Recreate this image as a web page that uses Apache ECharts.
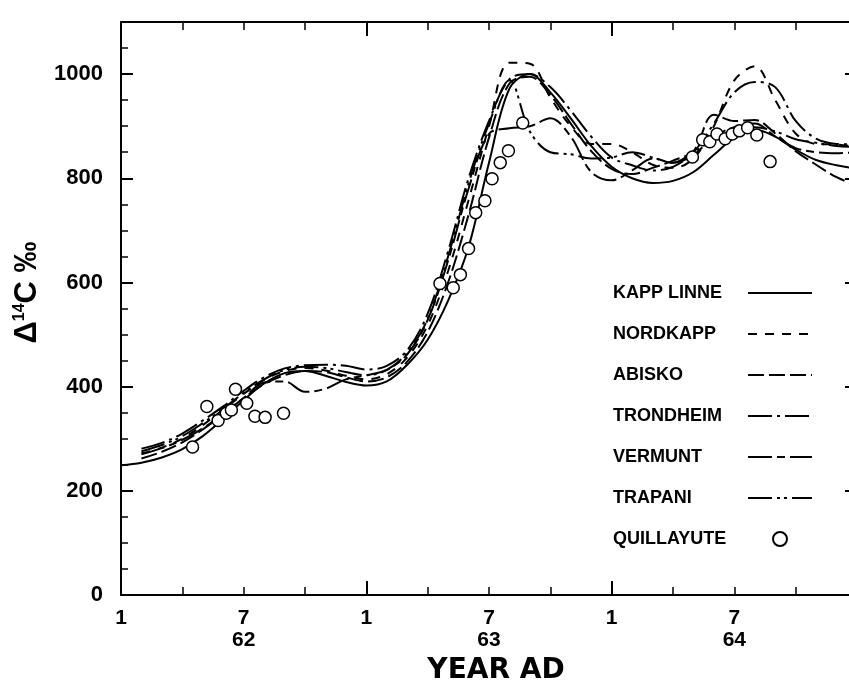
<!DOCTYPE html>
<html>
<head>
<meta charset="utf-8">
<script src="https://cdn.jsdelivr.net/npm/echarts@6/dist/echarts.min.js"></script>
<style>
  html, body { margin: 0; padding: 0; background: #fff; }
  #chart { width: 849px; height: 686px; }
</style>
</head>
<body>
<div id="chart"></div>
<script>
// months counted from Jan 1962 (0 = Jan 62, 12 = Jan 63, 24 = Jan 64)
const MONTHS = [0, 1, 2, 3, 4, 5, 6, 7, 8, 9, 10, 11, 12, 13, 14, 15, 16, 17, 18,
  19, 20, 21, 22, 23, 24, 25, 26, 27, 28, 29, 30, 31, 32, 33, 34, 35, 36];

const KAPP_LINNE = [249, 254, 264, 280, 305, 338, 374, 406, 426, 430, 421, 409, 402, 410, 442, 490, 565, 668, 830,
  972, 1000, 965, 915, 862, 822, 800, 791, 795, 812, 845, 878, 893, 880, 855, 835, 825, 818];
const NORDKAPP = [null, 272, 283, 300, 326, 356, 386, 413, 430, 436, 431, 421, 414, 424, 456, 518, 622, 758, 900,
  1022, 1020, 955, 900, 866, 866, 850, 826, 820, 838, 900, 988, 1015, 950, 886, 866, 865, 860];
const ABISKO = [null, 262, 275, 293, 318, 347, 378, 405, 422, 430, 428, 418, 410, 418, 448, 505, 600, 730, 878,
  982, 995, 960, 905, 852, 818, 808, 820, 834, 852, 922, 910, 912, 886, 852, 826, 802, 786];
const TRONDHEIM = [null, 281, 292, 310, 335, 362, 392, 418, 435, 441, 442, 440, 433, 440, 470, 540, 660, 800, 910,
  990, 1000, 975, 930, 880, 840, 825, 815, 822, 850, 905, 965, 985, 975, 910, 876, 866, 865];
const VERMUNT = [null, 270, 282, 298, 320, 348, 378, 408, 410, 390, 396, 414, 422, 432, 462, 528, 642, 780, 885,
  896, 900, 915, 880, 812, 796, 815, 838, 830, 845, 880, 898, 905, 880, 858, 850, 848, 850];
const TRAPANI = [null, 276, 288, 305, 330, 358, 388, 414, 432, 438, 436, 428, 422, 432, 465, 530, 650, 790, 905,
  988, 890, 850, 846, 838, 840, 850, 840, 830, 850, 875, 890, 898, 890, 875, 868, 862, 860];

// Quillayute measurements (open circles)
const QUILLAYUTE_M = [3.5, 4.2, 4.75, 5.15, 5.4, 5.6, 6.15, 6.55, 7.05, 7.95,
  15.6, 16.25, 16.6, 17.0, 17.35, 17.8, 18.15, 18.55, 18.95, 19.65,
  27.95, 28.45, 28.8, 29.15, 29.55, 29.9, 30.25, 30.65, 31.1, 31.75];
const QUILLAYUTE_V = [284, 362, 335, 349, 355, 395, 368, 343, 341, 349,
  598, 590, 615, 665, 734, 757, 799, 830, 853, 906,
  841, 874, 870, 885, 876, 885, 891, 897, 883, 832];

const TICK_MONTHS = [0, 6, 12, 18, 24, 30];
const TICK_LABELS = ['1', '7\n62', '1', '7\n63', '1', '7\n64'];

const FONT = 'Liberation Sans';

const chart = echarts.init(document.getElementById('chart'));

function pairs(vals) {
  const out = [];
  vals.forEach((v, i) => { if (v !== null) out.push([MONTHS[i], v]); });
  return out;
}

function lineSeries(name, vals, dash) {
  return {
    name: name,
    type: 'line',
    data: pairs(vals),
    smooth: 0.35,
    symbol: 'none',
    showSymbol: false,
    // transparent item colour keeps the legend icon a bare line
    itemStyle: { color: 'rgba(0,0,0,0)', borderWidth: 0 },
    lineStyle: { color: '#000', width: 2, type: dash },
    z: 3
  };
}

const axisBlack = { onZero: false, lineStyle: { color: '#000', width: 2 } };

function tickAxis(pos, interval, len, width, isX) {
  return {
    type: 'value', position: pos, interval: interval,
    min: 0, max: isX ? 36 : 1100,
    axisLine: { show: false, onZero: false },
    axisTick: { show: true, inside: true, length: len, lineStyle: { color: '#000', width: width } },
    axisLabel: { show: false },
    splitLine: { show: false }
  };
}

const topAxis = tickAxis('top', 3, 8, 1.5, true);
topAxis.axisLine = axisBlack;
const rightAxis = tickAxis('right', 200, 12, 2, false);
rightAxis.axisLine = axisBlack;

const option = {
  animation: false,
  backgroundColor: '#fff',
  grid: { left: 121, top: 22, width: 736, height: 573, containLabel: false, outerBoundsMode: 'none' },
  legend: {
    orient: 'vertical',
    left: 608,
    top: 279,
    align: 'right',
    itemWidth: 64,
    itemHeight: 14,
    itemGap: 23,
    formatter: '{n|{name}}',
    textStyle: {
      color: '#000',
      rich: {
        n: { width: 130, align: 'left', fontSize: 18, fontWeight: 'bold', fontFamily: FONT, lineHeight: 20, color: '#000' }
      }
    },
    data: ['KAPP LINNE', 'NORDKAPP', 'ABISKO', 'TRONDHEIM', 'VERMUNT', 'TRAPANI', 'QUILLAYUTE']
  },
  xAxis: [
    {
      type: 'value', min: 0, max: 36, interval: 3, position: 'bottom',
      axisLine: axisBlack,
      axisTick: { inside: true, length: 8, lineStyle: { color: '#000', width: 1.5 } },
      splitLine: { show: false },
      axisLabel: {
        color: '#000', fontSize: 21, fontWeight: 'bold', fontFamily: FONT, lineHeight: 22, margin: 12,
        formatter: v => {
          const i = TICK_MONTHS.indexOf(v);
          return i < 0 ? '' : TICK_LABELS[i];
        }
      },
      name: 'YEAR AD',
      nameLocation: 'middle',
      nameGap: 62,
      nameTextStyle: { color: '#000', fontSize: 28, fontWeight: 'bold', fontFamily: 'DejaVu Sans', padding: [0, 0, 0, 14] }
    },
    tickAxis('bottom', 12, 14, 2, true),
    topAxis,
    tickAxis('top', 12, 14, 2, true)
  ],
  yAxis: [
    {
      type: 'value', min: 0, max: 1100, interval: 200, position: 'left',
      axisLine: { show: true, onZero: false, lineStyle: { color: '#000', width: 2 } },
      axisTick: { show: true, inside: true, length: 12, lineStyle: { color: '#000', width: 2 } },
      splitLine: { show: false },
      axisLabel: {
        color: '#000', fontSize: 22, fontWeight: 'bold', fontFamily: FONT, margin: 18,
        formatter: v => (v > 1000 ? '' : String(v))
      },
      name: '{a|Δ}{s|14}{a|C ‰}',
      nameLocation: 'middle',
      nameRotate: 90,
      nameGap: 76,
      nameTextStyle: {
        padding: [0, 0, 0, 32],
        rich: {
          a: { fontSize: 31, fontWeight: 'bold', fontFamily: FONT, color: '#000', lineHeight: 32 },
          s: { fontSize: 16, fontWeight: 'bold', fontFamily: FONT, color: '#000', verticalAlign: 'top', lineHeight: 16 }
        }
      }
    },
    tickAxis('left', 50, 7, 1.5, false),
    rightAxis,
    tickAxis('right', 50, 7, 1.5, false)
  ],
  series: [
    lineSeries('KAPP LINNE', KAPP_LINNE, 'solid'),
    lineSeries('NORDKAPP', NORDKAPP, [9, 8]),
    lineSeries('ABISKO', ABISKO, [16, 5]),
    lineSeries('TRONDHEIM', TRONDHEIM, [24, 5, 3, 5]),
    lineSeries('VERMUNT', VERMUNT, [24, 5, 8, 5]),
    lineSeries('TRAPANI', TRAPANI, [24, 5, 3, 4, 3, 5]),
    {
      name: 'QUILLAYUTE',
      type: 'scatter',
      data: QUILLAYUTE_M.map((m, i) => [m, QUILLAYUTE_V[i]]),
      symbol: 'circle',
      symbolSize: 12,
      itemStyle: { color: '#fff', borderColor: '#000', borderWidth: 1.5, opacity: 1 },
      z: 4
    }
  ]
};

chart.setOption(option);
</script>
</body>
</html>
